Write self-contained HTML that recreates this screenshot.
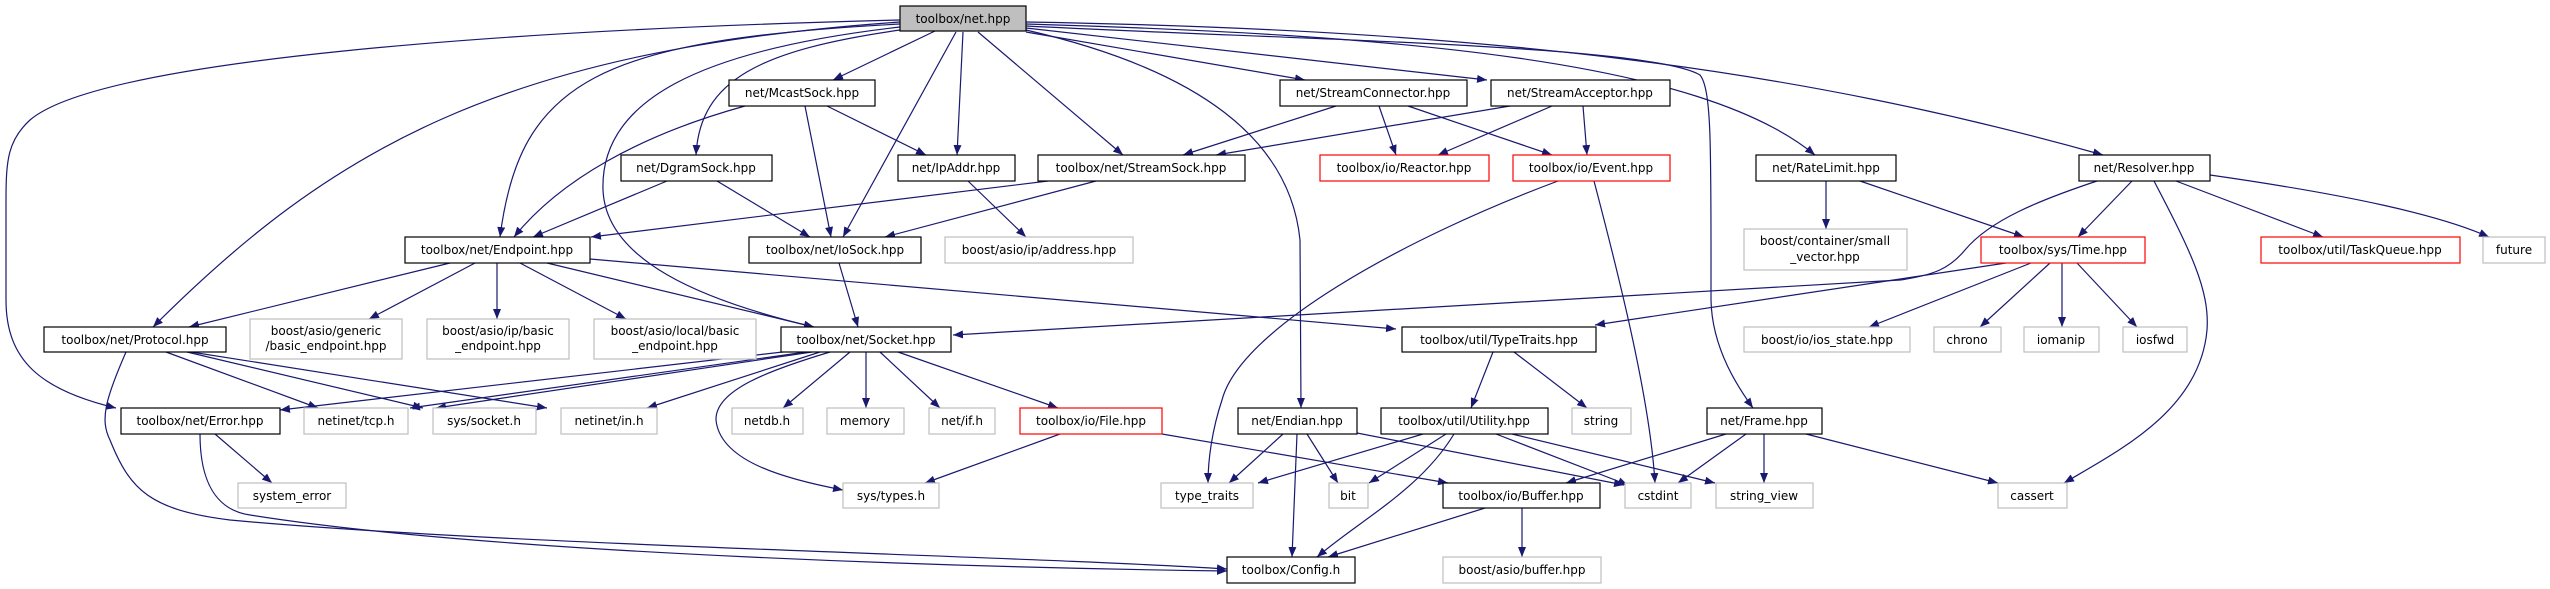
<!DOCTYPE html>
<html><head><meta charset="utf-8"><style>
html,body{margin:0;padding:0;background:#fff;}
svg{display:block;}
text{font-family:"DejaVu Sans","Liberation Sans",sans-serif;font-size:12px;fill:#000;text-anchor:middle;}
.e{fill:none;stroke:#191970;stroke-width:1.2;marker-end:url(#a);}
.n{fill:#fff;stroke:#000;stroke-width:1.2;}
.g{fill:#fff;stroke:#bfbfbf;stroke-width:1.2;}
.r{fill:#fff;stroke:#ff0000;stroke-width:1.2;}
</style></head><body>
<svg width="2550" height="589" viewBox="0 0 2550 589" xmlns="http://www.w3.org/2000/svg">
<defs><marker id="a" markerUnits="userSpaceOnUse" markerWidth="11" markerHeight="8" refX="10" refY="4" orient="auto"><path d="M0,0 L10,4 L0,8 z" fill="#191970"/></marker></defs>
<g>
<path class="e" d="M935,31 L833,80"/>
<path class="e" d="M900,30 C760,50 700,80 696,155"/>
<path class="e" d="M963,32 L957,155"/>
<path class="e" d="M956,32 L843,237"/>
<path class="e" d="M978,32 L1123,155"/>
<path class="e" d="M900,24 C600,40 520,80 500,237"/>
<path class="e" d="M900,22 C500,50 330,150 153,327"/>
<path class="e" d="M900,20 C500,30 100,60 30,120 C8,140 6,160 6,200 L6,300 C6,360 40,390 116,408"/>
<path class="e" d="M900,27 C700,50 600,100 603,190 C606,260 700,300 814,327"/>
<path class="e" d="M1026,32 L1305,80"/>
<path class="e" d="M1026,28 L1487,80"/>
<path class="e" d="M1026,30 C1200,70 1290,140 1300,240 L1301,408"/>
<path class="e" d="M1026,26 C1300,40 1650,45 1700,75 C1712,90 1711,150 1711,300 C1712,350 1740,390 1753,408"/>
<path class="e" d="M1026,24 C1400,35 1700,60 1815,155"/>
<path class="e" d="M1026,22 C1500,30 1800,70 2103,155"/>
<path class="e" d="M745,106 C640,135 560,180 514,237"/>
<path class="e" d="M805,106 L831,237"/>
<path class="e" d="M827,106 L926,155"/>
<path class="e" d="M667,181 L533,237"/>
<path class="e" d="M717,181 L810,237"/>
<path class="e" d="M968,181 L1026,237"/>
<path class="e" d="M1048,181 L591,237"/>
<path class="e" d="M1096,181 L885,237"/>
<path class="e" d="M1336,106 L1183,155"/>
<path class="e" d="M1510,106 L1216,155"/>
<path class="e" d="M1379,106 L1396,155"/>
<path class="e" d="M1408,106 L1552,155"/>
<path class="e" d="M1552,106 L1438,155"/>
<path class="e" d="M1583,106 L1587,155"/>
<path class="e" d="M1558,181 C1400,240 1240,330 1222,400 C1212,430 1208,460 1208,483"/>
<path class="e" d="M1594,181 C1620,280 1650,400 1655,483"/>
<path class="e" d="M1826,181 L1826,229"/>
<path class="e" d="M1860,181 L2024,237"/>
<path class="e" d="M2132,181 L2078,237"/>
<path class="e" d="M2176,181 L2323,237"/>
<path class="e" d="M2210,175 C2350,195 2440,215 2489,237"/>
<path class="e" d="M2154,181 C2190,250 2210,290 2207,330 C2200,410 2120,450 2064,483"/>
<path class="e" d="M2097,181 C2040,200 1990,220 1965,250 C1950,268 1935,275 1900,280 L953,335"/>
<path class="e" d="M2006,263 L1595,325"/>
<path class="e" d="M2031,263 L1869,327"/>
<path class="e" d="M2050,263 L1980,327"/>
<path class="e" d="M2062,263 L2062,327"/>
<path class="e" d="M2077,263 L2137,327"/>
<path class="e" d="M450,263 L189,327"/>
<path class="e" d="M475,263 L369,319"/>
<path class="e" d="M497,263 L497,319"/>
<path class="e" d="M520,263 L626,319"/>
<path class="e" d="M547,263 L814,327"/>
<path class="e" d="M590,259 L1396,329"/>
<path class="e" d="M839,263 L858,327"/>
<path class="e" d="M166,352 L318,408"/>
<path class="e" d="M187,352 L423,408"/>
<path class="e" d="M191,352 L547,408"/>
<path class="e" d="M126,352 C105,400 100,420 110,440 C130,490 150,510 230,520 C500,545 1000,555 1227,569"/>
<path class="e" d="M200,434 C200,480 215,510 250,515 C500,555 1000,568 1227,571"/>
<path class="e" d="M215,434 L272,483"/>
<path class="e" d="M800,350 L280,410"/>
<path class="e" d="M806,352 L410,408"/>
<path class="e" d="M812,352 L436,408"/>
<path class="e" d="M820,352 L647,408"/>
<path class="e" d="M850,352 L783,408"/>
<path class="e" d="M866,352 L866,408"/>
<path class="e" d="M880,352 L940,408"/>
<path class="e" d="M898,352 L1058,408"/>
<path class="e" d="M830,352 C770,370 715,390 716,420 C720,460 780,478 843,490"/>
<path class="e" d="M1060,434 L925,483"/>
<path class="e" d="M1162,434 L1448,483"/>
<path class="e" d="M1493,352 L1471,408"/>
<path class="e" d="M1514,352 L1587,408"/>
<path class="e" d="M1307,434 L1338,483"/>
<path class="e" d="M1283,434 L1229,483"/>
<path class="e" d="M1297,434 L1292,557"/>
<path class="e" d="M1357,433 L1624,485"/>
<path class="e" d="M1423,434 L1258,483"/>
<path class="e" d="M1446,434 L1369,483"/>
<path class="e" d="M1454,434 C1420,490 1360,520 1317,557"/>
<path class="e" d="M1496,434 L1628,485"/>
<path class="e" d="M1512,434 L1715,483"/>
<path class="e" d="M1726,434 L1566,483"/>
<path class="e" d="M1746,434 L1678,483"/>
<path class="e" d="M1764,434 L1764,483"/>
<path class="e" d="M1806,434 L1998,483"/>
<path class="e" d="M1485,508 L1328,557"/>
<path class="e" d="M1522,508 L1522,557"/>
</g>
<g>
<rect x="900" y="6" width="126" height="25" fill="#bfbfbf" stroke="#000" stroke-width="1.2"/><text x="963" y="23">toolbox/net.hpp</text>
<rect class="n" x="729" y="80" width="146" height="26"/><text x="802" y="97">net/McastSock.hpp</text>
<rect class="n" x="1280" y="80" width="187" height="26"/><text x="1373" y="97">net/StreamConnector.hpp</text>
<rect class="n" x="1491" y="80" width="179" height="26"/><text x="1580" y="97">net/StreamAcceptor.hpp</text>
<rect class="n" x="621" y="155" width="151" height="26"/><text x="696" y="172">net/DgramSock.hpp</text>
<rect class="n" x="898" y="155" width="117" height="26"/><text x="956" y="172">net/IpAddr.hpp</text>
<rect class="n" x="1038" y="155" width="207" height="26"/><text x="1141" y="172">toolbox/net/StreamSock.hpp</text>
<rect class="r" x="1320" y="155" width="169" height="26"/><text x="1404" y="172">toolbox/io/Reactor.hpp</text>
<rect class="r" x="1513" y="155" width="157" height="26"/><text x="1591" y="172">toolbox/io/Event.hpp</text>
<rect class="n" x="1756" y="155" width="140" height="26"/><text x="1826" y="172">net/RateLimit.hpp</text>
<rect class="n" x="2079" y="155" width="131" height="26"/><text x="2144" y="172">net/Resolver.hpp</text>
<rect class="n" x="405" y="237" width="185" height="26"/><text x="497" y="254">toolbox/net/Endpoint.hpp</text>
<rect class="n" x="749" y="237" width="172" height="26"/><text x="835" y="254">toolbox/net/IoSock.hpp</text>
<rect class="g" x="945" y="237" width="188" height="26"/><text x="1039" y="254">boost/asio/ip/address.hpp</text>
<rect class="g" x="1744" y="229" width="163" height="41"/><text x="1825" y="245">boost/container/small</text><text x="1825" y="261">_vector.hpp</text>
<rect class="r" x="1981" y="237" width="164" height="26"/><text x="2063" y="254">toolbox/sys/Time.hpp</text>
<rect class="r" x="2261" y="237" width="199" height="26"/><text x="2360" y="254">toolbox/util/TaskQueue.hpp</text>
<rect class="g" x="2483" y="237" width="62" height="26"/><text x="2514" y="254">future</text>
<rect class="n" x="44" y="327" width="182" height="25"/><text x="135" y="344">toolbox/net/Protocol.hpp</text>
<rect class="g" x="250" y="319" width="152" height="40"/><text x="326" y="335">boost/asio/generic</text><text x="326" y="350">/basic_endpoint.hpp</text>
<rect class="g" x="427" y="319" width="142" height="40"/><text x="498" y="335">boost/asio/ip/basic</text><text x="498" y="350">_endpoint.hpp</text>
<rect class="g" x="594" y="319" width="162" height="40"/><text x="675" y="335">boost/asio/local/basic</text><text x="675" y="350">_endpoint.hpp</text>
<rect class="n" x="781" y="327" width="170" height="25"/><text x="866" y="344">toolbox/net/Socket.hpp</text>
<rect class="n" x="1402" y="327" width="194" height="25"/><text x="1499" y="344">toolbox/util/TypeTraits.hpp</text>
<rect class="g" x="1744" y="327" width="166" height="25"/><text x="1827" y="344">boost/io/ios_state.hpp</text>
<rect class="g" x="1934" y="327" width="67" height="25"/><text x="1967" y="344">chrono</text>
<rect class="g" x="2024" y="327" width="75" height="25"/><text x="2061" y="344">iomanip</text>
<rect class="g" x="2123" y="327" width="64" height="25"/><text x="2155" y="344">iosfwd</text>
<rect class="n" x="121" y="408" width="159" height="26"/><text x="200" y="425">toolbox/net/Error.hpp</text>
<rect class="g" x="304" y="408" width="104" height="26"/><text x="356" y="425">netinet/tcp.h</text>
<rect class="g" x="433" y="408" width="103" height="26"/><text x="484" y="425">sys/socket.h</text>
<rect class="g" x="561" y="408" width="96" height="26"/><text x="609" y="425">netinet/in.h</text>
<rect class="g" x="732" y="408" width="71" height="26"/><text x="767" y="425">netdb.h</text>
<rect class="g" x="827" y="408" width="77" height="26"/><text x="865" y="425">memory</text>
<rect class="g" x="929" y="408" width="66" height="26"/><text x="962" y="425">net/if.h</text>
<rect class="r" x="1020" y="408" width="142" height="26"/><text x="1091" y="425">toolbox/io/File.hpp</text>
<rect class="n" x="1238" y="408" width="119" height="26"/><text x="1297" y="425">net/Endian.hpp</text>
<rect class="n" x="1381" y="408" width="167" height="26"/><text x="1464" y="425">toolbox/util/Utility.hpp</text>
<rect class="g" x="1572" y="408" width="59" height="26"/><text x="1601" y="425">string</text>
<rect class="n" x="1707" y="408" width="115" height="26"/><text x="1764" y="425">net/Frame.hpp</text>
<rect class="g" x="238" y="483" width="108" height="25"/><text x="292" y="500">system_error</text>
<rect class="g" x="843" y="483" width="96" height="25"/><text x="891" y="500">sys/types.h</text>
<rect class="g" x="1161" y="483" width="92" height="25"/><text x="1207" y="500">type_traits</text>
<rect class="g" x="1329" y="483" width="39" height="25"/><text x="1348" y="500">bit</text>
<rect class="n" x="1443" y="483" width="157" height="25"/><text x="1521" y="500">toolbox/io/Buffer.hpp</text>
<rect class="g" x="1625" y="483" width="66" height="25"/><text x="1658" y="500">cstdint</text>
<rect class="g" x="1716" y="483" width="97" height="25"/><text x="1764" y="500">string_view</text>
<rect class="g" x="1998" y="483" width="69" height="25"/><text x="2032" y="500">cassert</text>
<rect class="n" x="1227" y="557" width="128" height="26"/><text x="1291" y="574">toolbox/Config.h</text>
<rect class="g" x="1443" y="557" width="158" height="26"/><text x="1522" y="574">boost/asio/buffer.hpp</text>
</g>
</svg>
</body></html>
